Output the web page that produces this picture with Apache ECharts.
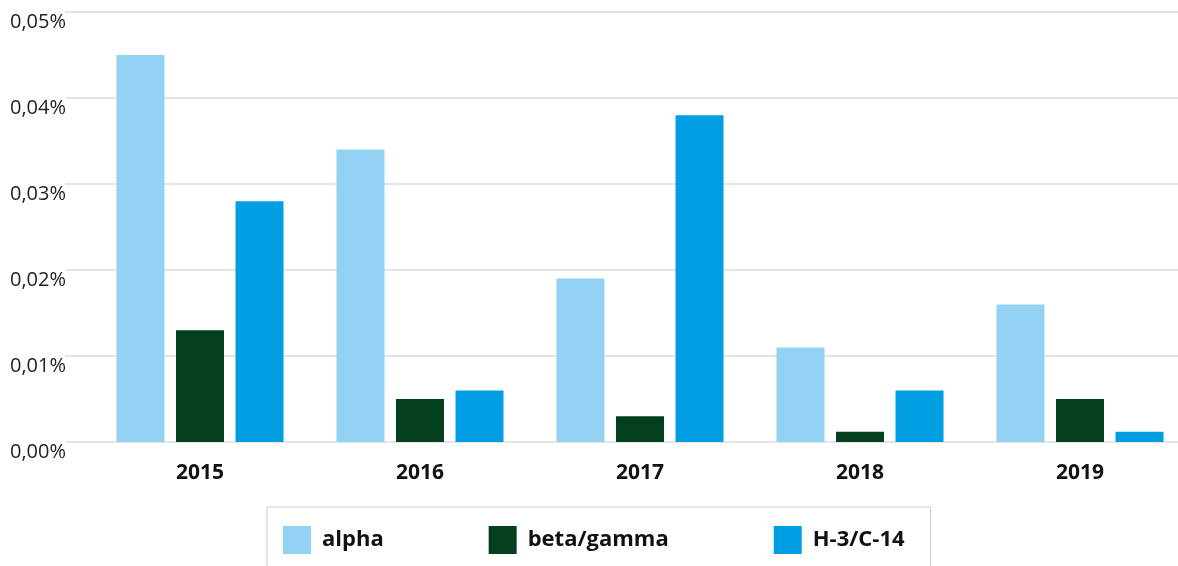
<!DOCTYPE html>
<html>
<head>
<meta charset="utf-8">
<script src="https://cdn.jsdelivr.net/npm/echarts@6/dist/echarts.min.js"></script>
<style>
  html, body { margin: 0; padding: 0; background: #fff; }
  #chart { width: 1178px; height: 566px; }
</style>
</head>
<body>
<div id="chart"></div>
<script>
// 数据
var years = ['2015', '2016', '2017', '2018', '2019'];
var alpha = [0.045, 0.034, 0.019, 0.011, 0.016];
var betaGamma = [0.013, 0.005, 0.003, 0.0012, 0.005];
var h3c14 = [0.028, 0.006, 0.038, 0.006, 0.0012];
var yTicks = [0, 0.01, 0.02, 0.03, 0.04, 0.05];

var font = '"Open Sans", "Noto Sans", sans-serif';

function pct(v) {
    return v.toFixed(2).replace('.', ',') + '%';
}

var myChart = echarts.init(document.getElementById('chart'));

function barSeries(name, data, color) {
    return {
        name: name,
        type: 'bar',
        xAxisIndex: 0,
        yAxisIndex: 0,
        barWidth: 48,
        barGap: '24%',
        itemStyle: { color: color },
        data: data
    };
}

myChart.setOption({
    animation: false,
    textStyle: { fontFamily: font },
    grid: [
        // bars (categories 220px wide, last one runs past the edge)
        { left: 90, width: 1100, top: 12, bottom: 124, outerBoundsMode: 'none' },
        // gridlines + y labels
        { left: 65, right: 0, top: 12, bottom: 124, outerBoundsMode: 'none' }
    ],
    legend: {
        left: 267,
        top: 507,
        padding: [19, 26, 20, 16],
        borderColor: '#cccccc',
        borderWidth: 1,
        itemWidth: 28,
        itemHeight: 28,
        itemGap: 105,
        icon: 'rect',
        textStyle: {
            fontFamily: font,
            fontSize: 22,
            fontWeight: 'bold',
            color: '#111',
            padding: [0, 0, 0, 6]
        },
        data: ['alpha', 'beta/gamma', 'H-3/C-14']
    },
    xAxis: [{
        type: 'category',
        gridIndex: 0,
        data: years,
        axisLine: { show: false },
        axisTick: { show: false },
        axisLabel: {
            margin: 21,
            fontSize: 21,
            fontWeight: 'bold',
            color: '#111',
            fontFamily: font
        }
    }, {
        type: 'category',
        gridIndex: 1,
        data: years,
        show: false
    }],
    yAxis: [{
        type: 'value',
        gridIndex: 0,
        min: yTicks[0],
        max: yTicks[yTicks.length - 1],
        interval: 0.01,
        show: false
    }, {
        type: 'value',
        gridIndex: 1,
        min: yTicks[0],
        max: yTicks[yTicks.length - 1],
        interval: 0.01,
        axisLine: { show: false },
        axisTick: { show: false },
        splitLine: { lineStyle: { color: '#dddddd', width: 1.5 } },
        axisLabel: {
            align: 'left',
            verticalAlign: 'top',
            margin: 55,
            fontSize: 20,
            color: '#222',
            fontFamily: font,
            formatter: pct
        }
    }],
    series: [
        barSeries('alpha', alpha, '#93d2f3'),
        barSeries('beta/gamma', betaGamma, '#02401e'),
        barSeries('H-3/C-14', h3c14, '#009fe3')
    ]
});
</script>
</body>
</html>
